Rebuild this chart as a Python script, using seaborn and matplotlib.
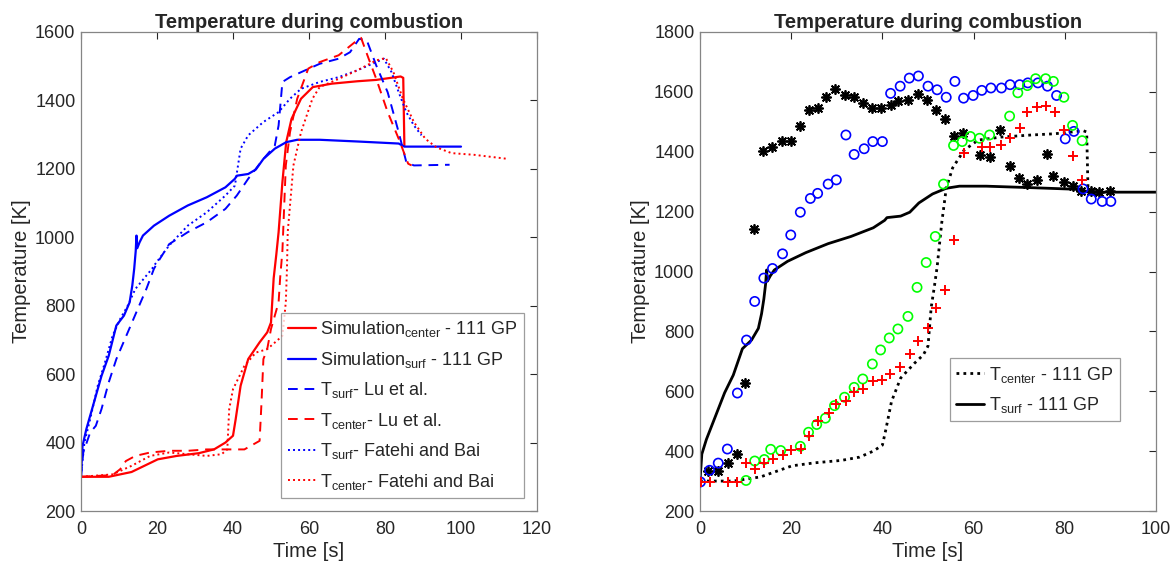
import matplotlib
matplotlib.use('Agg')
import matplotlib.pyplot as plt
import seaborn as sns

# simulation (111 GP)
sim_c_t = [0, 5, 7.3, 13.3, 20.2, 25.2, 31, 35, 38, 40, 40.7, 42, 44, 47, 49, 50, 50.7, 51.4, 52, 53,
           54, 55.4, 57.9, 61, 66, 72.7, 77.7, 84.1, 84.8, 85.1]
sim_c_T = [300, 300, 300, 314, 351, 361, 369, 380, 400, 420, 468, 566, 644, 693, 722, 751, 880, 950, 1015, 1161,
           1278, 1346, 1405, 1439, 1449, 1456, 1460, 1470, 1466, 1268]
sim_s_t = [0, 0.4, 1.4, 3.4, 5.4, 7.3, 9.3, 11.3, 12.8, 13.5, 14.0, 14.4, 14.6, 14.8, 15.4, 16.3, 19.2, 23.2,
           28.1, 33.1, 38, 40.5, 41, 44, 46, 48, 51, 54, 56.9, 62.8, 72.7, 83.6, 85.1, 100, 112]
sim_s_T = [300, 390, 439, 517, 595, 654, 742, 771, 810, 859, 908, 960, 1005, 968, 985, 1005, 1034, 1063,
           1093, 1117, 1146, 1171, 1180, 1185, 1198, 1229, 1259, 1278, 1285, 1285, 1280, 1274, 1265, 1265, 1265]

# Lu et al.
lu_s_t = [0, 0.6, 2.4, 3.9, 5.4, 7.3, 9.3, 12.3, 15.3, 17.2, 19.2, 20.2, 23.2, 28.1, 33.1, 38, 41, 44, 48, 51,
          52, 53, 55, 59, 62.8, 67.8, 70.8, 73.2, 75.2, 77.7, 80.7, 83.6, 85.6, 87.6, 97]
lu_s_T = [302, 371, 429, 449, 498, 576, 644, 722, 800, 849, 908, 927, 980, 1015, 1044, 1083, 1122, 1171, 1229, 1268,
          1327, 1454, 1468, 1488, 1507, 1522, 1541, 1580, 1576, 1502, 1424, 1307, 1220, 1210, 1212]
lu_c_t = [0, 8.3, 10.3, 11.8, 14.3, 18.2, 23.2, 28.1, 33.1, 38, 43, 47, 47.5, 48, 49, 50, 52, 52.4, 53, 53.9,
          55, 56.9, 59.8, 62.8, 67.8, 72.7, 73.7, 75.7, 77.7, 80.7, 83.6, 86.1, 87]
lu_c_T = [300, 305, 322, 346, 361, 371, 376, 376, 380, 380, 380, 405, 517, 644, 673, 732, 810, 880, 960, 1210,
          1307, 1405, 1493, 1512, 1532, 1576, 1583, 1522, 1463, 1366, 1288, 1215, 1210]

# Fatehi and Bai
fb_s_t = [0, 0.9, 2.4, 4.4, 6.3, 8.3, 10.3, 12.3, 14.3, 17.2, 18.7, 19.2, 23.2, 28.1, 33.1, 38, 40.5, 42, 44, 48,
          52, 55, 57.9, 62.8, 67.8, 72.7, 77.7, 79.7, 81.7, 83.6, 85.6, 87.6, 89.6]
fb_s_T = [302, 400, 468, 566, 634, 712, 761, 800, 849, 888, 908, 917, 976, 1034, 1073, 1122, 1151, 1259, 1298, 1337,
          1366, 1405, 1434, 1454, 1468, 1488, 1512, 1522, 1483, 1424, 1366, 1327, 1298]
fb_c_t = [0, 8.3, 13.3, 18.2, 23.2, 28.1, 33.1, 37, 38.5, 39, 40, 43, 46, 49, 52, 53, 53.9, 54.2, 54.4, 55.9,
          57.9, 60.9, 62.8, 67.8, 72.7, 77.7, 80.2, 82.2, 84.7, 87.6, 90.6, 93.5, 97.5, 103.5, 112.4]
fb_c_T = [300, 307, 332, 361, 371, 366, 361, 366, 380, 498, 556, 624, 663, 673, 702, 712, 810, 908, 1015, 1210,
          1307, 1405, 1439, 1463, 1488, 1517, 1524, 1483, 1405, 1337, 1288, 1263, 1246, 1241, 1229]

# experimental points (right panel)
blk_t = [1.8, 4.0, 6.1, 8.1, 9.9, 11.8, 13.8, 15.7, 18.0, 19.9, 22.0, 23.8, 25.8, 27.7, 29.6, 31.7, 33.8, 35.7,
         37.7, 39.8, 41.8, 43.5, 45.6, 47.8, 49.7, 51.7, 53.7, 55.7, 57.7, 61.5, 63.5, 65.8, 67.9, 70, 71.8, 73.8,
         76.1, 77.5, 79.8, 81.8, 83.6, 85.7, 87.6, 90]
blk_T = [333, 335, 360, 389, 628, 1142, 1404, 1417, 1435, 1435, 1485, 1538, 1546, 1582, 1610, 1588, 1582, 1563,
         1547, 1546, 1555, 1571, 1574, 1594, 1574, 1538, 1510, 1454, 1462, 1389, 1382, 1471, 1354, 1313, 1292, 1304,
         1391, 1320, 1298, 1284, 1270, 1270, 1265, 1268]
blue_t = [0.1, 2.1, 4, 6, 8.2, 10.2, 12, 14, 15.9, 18.1, 19.9, 22, 24.2, 25.8, 28.1, 29.9, 32, 33.8, 36, 37.9,
          40, 41.8, 43.9, 45.9, 47.9, 50, 52, 54, 55.9, 57.8, 59.9, 61.8, 63.8, 66.1, 68, 70.1, 71.9, 74.1, 76.2,
          78.2, 80.1, 82, 84, 85.8, 88.2, 90.1]
blue_T = [297, 336, 360, 407, 594, 771, 900, 978, 1010, 1059, 1122, 1198, 1244, 1261, 1292, 1306, 1456, 1391,
          1410, 1434, 1434, 1595, 1619, 1646, 1653, 1619, 1607, 1582, 1635, 1579, 1588, 1605, 1613, 1613, 1624,
          1624, 1630, 1630, 1619, 1588, 1443, 1468, 1276, 1242, 1234, 1234]
green_t = [10.1, 12, 14.1, 15.5, 17.7, 22, 23.8, 25.6, 27.5, 29.5, 31.7, 33.8, 35.7, 37.8, 39.6, 41.5, 43.4,
           45.6, 47.6, 49.6, 51.6, 53.4, 55.6, 57.5, 59.3, 61.3, 63.5, 67.9, 69.7, 71.8, 73.6, 75.8, 77.5, 79.8,
           81.7, 83.8]
green_T = [302, 367, 372, 406, 402, 416, 463, 489, 510, 552, 580, 613, 641, 691, 738, 778, 808, 850, 947, 1030,
           1117, 1292, 1421, 1434, 1451, 1445, 1456, 1519, 1597, 1621, 1644, 1644, 1635, 1582, 1488, 1437]
red_t = [0.2, 2.1, 6.2, 8.2, 10.1, 12, 14.1, 16, 18.1, 20, 22.1, 23.9, 25.9, 28.2, 29.9, 32, 33.8, 35.8, 37.9,
         40, 41.7, 43.8, 46.1, 47.9, 50, 51.8, 53.8, 55.7, 57.8, 61.8, 63.7, 66.1, 68, 70.1, 71.8, 74, 75.9,
         77.9, 79.9, 81.7, 83.8]
red_T = [297, 297, 297, 297, 360, 341, 360, 374, 388, 404, 407, 449, 502, 527, 558, 569, 599, 608, 634, 637,
         658, 682, 724, 767, 811, 878, 939, 1106, 1396, 1417, 1417, 1423, 1445, 1479, 1534, 1549, 1552, 1534,
         1471, 1387, 1304]

sns.set_theme(style='white')
plt.rcParams['font.family'] = ['Liberation Sans', 'DejaVu Sans']
plt.rcParams['mathtext.fontset'] = 'custom'
plt.rcParams['mathtext.rm'] = 'Liberation Sans'
plt.rcParams['mathtext.it'] = 'Liberation Sans'

fig = plt.figure(figsize=(11.71, 5.67), dpi=100)
ax1 = fig.add_axes([81 / 1171, 1 - 511 / 567, 456 / 1171, 479 / 567])
ax2 = fig.add_axes([700 / 1171, 1 - 511 / 567, 456 / 1171, 479 / 567])

dash = (5, 3.5)
dot = (1, 1.6)
kw = dict(sort=False, estimator=None)
sns.lineplot(x=sim_c_t, y=sim_c_T, ax=ax1, color='red', lw=1.6, label=r'Simulation$_{\mathregular{center}}$ - 111 GP', **kw)
sns.lineplot(x=sim_s_t[:-1], y=sim_s_T[:-1], ax=ax1, color='blue', lw=1.6, label=r'Simulation$_{\mathregular{surf}}$ - 111 GP', **kw)
sns.lineplot(x=lu_s_t, y=lu_s_T, ax=ax1, color='blue', lw=1.4, label=r'T$_{\mathregular{surf}}$- Lu et al.', **kw)
sns.lineplot(x=lu_c_t, y=lu_c_T, ax=ax1, color='red', lw=1.4, label=r'T$_{\mathregular{center}}$- Lu et al.', **kw)
sns.lineplot(x=fb_s_t, y=fb_s_T, ax=ax1, color='blue', lw=1.4, label=r'T$_{\mathregular{surf}}$- Fatehi and Bai', **kw)
sns.lineplot(x=fb_c_t, y=fb_c_T, ax=ax1, color='red', lw=1.4, label=r'T$_{\mathregular{center}}$- Fatehi and Bai', **kw)
lines = ax1.get_lines()
for ln in lines[2:4]:
    ln.set_dashes(dash)
for ln in lines[4:6]:
    ln.set_dashes(dot)

sc = dict(ax=ax2, s=44, legend=False, zorder=3)
sns.scatterplot(x=blk_t, y=blk_T, marker=(8, 2, 0), color='black', linewidth=1.3, **sc)
sns.scatterplot(x=blue_t, y=blue_T, marker='o', facecolors='none', edgecolor='blue', linewidth=1.2, **sc)
sns.scatterplot(x=green_t, y=green_T, marker='o', facecolors='none', edgecolor='#00ff00', linewidth=1.2, **sc)
sns.scatterplot(x=red_t, y=red_T, marker='+', color='red', linewidth=1.4, **sc)
sns.lineplot(x=sim_c_t, y=sim_c_T, ax=ax2, color='black', lw=2.0, label=r'T$_{\mathregular{center}}$ - 111 GP', **kw)
sns.lineplot(x=sim_s_t, y=sim_s_T, ax=ax2, color='black', lw=2.0, label=r'T$_{\mathregular{surf}}$ - 111 GP', **kw)
ax2.get_lines()[0].set_dashes((1, 1.5))

for ax, xmax, ymax, xt, yt in [(ax1, 120, 1600, range(0, 121, 20), range(200, 1601, 200)),
                                (ax2, 100, 1800, range(0, 101, 20), range(200, 1801, 200))]:
    ax.set_xlim(0, xmax)
    ax.set_ylim(200, ymax)
    ax.set_xticks(list(xt))
    ax.set_yticks(list(yt))
    ax.tick_params(direction='in', length=5, width=0.8, colors='#262626', labelsize=13,
                   top=True, right=True, pad=4)
    ax.tick_params(axis='x', pad=7)
    for sp in ax.spines.values():
        sp.set_color('#858585')
        sp.set_linewidth(0.9)
    ax.set_xlabel('Time [s]', fontsize=14.5, color='#262626', labelpad=3)
    ax.set_ylabel('Temperature [K]', fontsize=14.5, color='#262626', labelpad=3)
    ax.set_title('Temperature during combustion', fontsize=14.5, fontweight='bold', pad=3)

legkw = dict(loc='lower right', fontsize=13, frameon=True, fancybox=False, handlelength=1.55,
             handletextpad=0.25, labelspacing=0.58, borderpad=0.35, borderaxespad=0)
leg1 = ax1.legend(bbox_to_anchor=(0.972, 0.027), **legkw)
leg2 = ax2.legend(bbox_to_anchor=(0.921, 0.187), **legkw)
for leg in (leg1, leg2):
    leg.get_frame().set_edgecolor('#858585')
    leg.get_frame().set_linewidth(0.9)

fig.savefig('out.png', dpi=100, facecolor='white')
